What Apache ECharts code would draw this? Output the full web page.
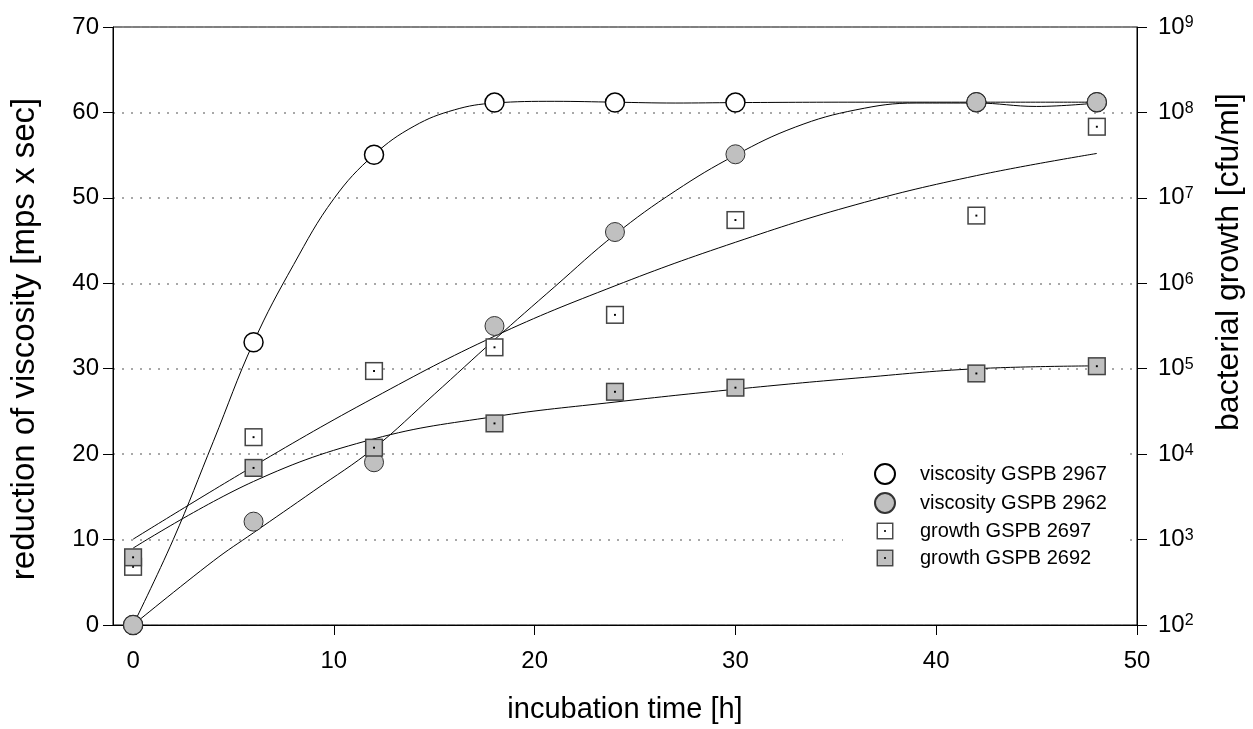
<!DOCTYPE html>
<html>
<head>
<meta charset="utf-8">
<script src="https://cdn.jsdelivr.net/npm/echarts@6/dist/echarts.min.js"></script>
<style>
html,body{margin:0;padding:0;background:#fff;}
#chart{width:1253px;height:729px;}
</style>
</head>
<body>
<div id="chart"></div>
<script>
// measured sample times [h]
const hours = [0, 6, 12, 18, 24, 30, 42, 48];
// reduction of viscosity [mps x sec]
const viscosity2967 = [0, 33.1, 55.05, 61.15, 61.15, 61.15, 61.2, 61.2];
const viscosity2962 = [0, 12.1, 19.05, 35.0, 46.0, 55.1, 61.2, 61.2];
// bacterial growth [cfu/ml]
const growth2697 = [4.8e2, 1.58e4, 9.4e4, 1.78e5, 4.27e5, 5.5e6, 6.2e6, 6.8e7];
const growth2692 = [6.2e2, 6.9e3, 1.19e4, 2.29e4, 5.37e4, 6.0e4, 8.8e4, 1.07e5];

// fitted curves
const fitX2967 = [0, 2, 4, 6, 8, 10, 12, 14, 16, 18, 21, 24, 27, 30, 36, 42, 48];
const fitVisc2967 = [0, 10, 21.5, 33.1, 42.2, 49.9, 55.05, 58.4, 60.3, 61.1, 61.3, 61.2, 61.1, 61.15, 61.2, 61.2, 61.2];
const fitX2962 = [0, 4, 6, 9, 12, 15, 18, 21, 24, 27, 30, 33, 36, 39, 42, 45, 48];
const fitVisc2962 = [0, 7.5, 10.8, 15.7, 20.7, 27.0, 33.4, 39.6, 45.7, 50.8, 55.0, 58.3, 60.3, 61.1, 61.1, 60.7, 61.1];
const fitXGrowth = [0, 6, 12, 18, 24, 30, 36, 42, 48];
const fitGrowth2697 = [1.01e3, 7.24e3, 4.57e4, 2.40e5, 9.33e5, 3.02e6, 8.32e6, 1.82e7, 3.31e7];
const fitGrowth2692 = [7.94e2, 4.79e3, 1.51e4, 2.75e4, 4.07e4, 5.75e4, 7.76e4, 1.0e5, 1.08e5];

const xTicks = [0, 10, 20, 30, 40, 50];
const seriesNames = ['viscosity GSPB 2967', 'viscosity GSPB 2962', 'growth GSPB 2697', 'growth GSPB 2692'];

const FONT = 'Liberation Sans, Arial, sans-serif';
function pairs(xs, ys) { return xs.map((x, i) => [x, ys[i]]); }
function squareIcon(fill) {
  const svg = "<svg xmlns='http://www.w3.org/2000/svg' width='20' height='20' viewBox='0 0 20 20'>" +
    "<rect x='2.25' y='2.25' width='15.5' height='15.5' fill='" + fill + "' stroke='#444' stroke-width='1.4'/>" +
    "<rect x='9.1' y='9.1' width='1.8' height='1.8' fill='#000'/></svg>";
  return 'image://data:image/svg+xml;charset=utf-8,' + encodeURIComponent(svg);
}
const fitLine = { color: '#000', width: 1 };

const chart = echarts.init(document.getElementById('chart'), null, { renderer: 'canvas' });
chart.setOption({
  animation: false,
  backgroundColor: '#fff',
  textStyle: { fontFamily: FONT },
  grid: { left: 111, right: 111, top: 27, bottom: 104, show: true, borderColor: '#000', borderWidth: 1, backgroundColor: 'transparent' },
  legend: {
    data: seriesNames,
    orient: 'vertical',
    left: 843, top: 453,
    padding: [10, 18, 12, 12],
    backgroundColor: '#fff',
    itemWidth: 60, itemHeight: 20, itemGap: 7,
    selectedMode: false,
    textStyle: { fontSize: 20, color: '#000', fontFamily: FONT }
  },
  xAxis: {
    type: 'value', min: -1, max: 50,
    name: 'incubation time [h]', nameLocation: 'middle', nameGap: 70,
    nameTextStyle: { fontSize: 29, color: '#000', fontFamily: FONT },
    axisLine: { onZero: false, lineStyle: { color: '#000', width: 1 } },
    axisTick: { customValues: xTicks, length: 10, lineStyle: { color: '#000' } },
    axisLabel: { customValues: xTicks, fontSize: 24, color: '#000', margin: 24, fontFamily: FONT },
    splitLine: { show: false }
  },
  yAxis: [
    {
      type: 'value', min: 0, max: 70, interval: 10, position: 'left',
      name: 'reduction of viscosity [mps x sec]', nameLocation: 'middle', nameGap: 72, nameRotate: 90,
      nameTextStyle: { fontSize: 33, color: '#000', fontFamily: FONT, padding: [0, 26, 0, 0] },
      axisLine: { show: true, onZero: false, lineStyle: { color: '#000', width: 1 } },
      axisTick: { show: true, length: 10, lineStyle: { color: '#000' } },
      axisLabel: { fontSize: 24, color: '#000', margin: 14, fontFamily: FONT },
      splitLine: { show: false }
    },
    {
      type: 'log', logBase: 10, min: 100, max: 1e9, interval: 1, position: 'right',
      name: 'bacterial growth [cfu/ml]', nameLocation: 'middle', nameGap: 76, nameRotate: 90,
      nameTextStyle: { fontSize: 32, color: '#000', fontFamily: FONT, padding: [0, 0, 0, 128] },
      axisLine: { show: true, onZero: false, lineStyle: { color: '#000', width: 1 } },
      axisTick: { show: true, length: 10, lineStyle: { color: '#000' } },
      axisLabel: {
        margin: 21, color: '#000',
        formatter: function (v) { return '{b|10}{s|' + Math.round(Math.log10(v)) + '}'; },
        rich: {
          b: { fontSize: 24, lineHeight: 24, color: '#000', fontFamily: FONT, verticalAlign: 'bottom' },
          s: { fontSize: 16, lineHeight: 24, color: '#000', fontFamily: FONT, verticalAlign: 'top', padding: [0, 0, 12, 0] }
        }
      },
      splitLine: { show: true, lineStyle: { color: '#8c8c8c', width: 1.5, type: [2, 7] } },
      minorSplitLine: { show: false }
    }
  ],
  series: [
    { type: 'line', data: pairs(fitX2967, fitVisc2967), yAxisIndex: 0, showSymbol: false, smooth: 0.4, lineStyle: fitLine, silent: true, z: 2 },
    { type: 'line', data: pairs(fitX2962, fitVisc2962), yAxisIndex: 0, showSymbol: false, smooth: 0.4, lineStyle: fitLine, silent: true, z: 2 },
    { type: 'line', data: pairs(fitXGrowth, fitGrowth2697), yAxisIndex: 1, showSymbol: false, smooth: 0.4, lineStyle: fitLine, silent: true, z: 2 },
    { type: 'line', data: pairs(fitXGrowth, fitGrowth2692), yAxisIndex: 1, showSymbol: false, smooth: 0.4, lineStyle: fitLine, silent: true, z: 2 },
    { name: seriesNames[0], type: 'scatter', yAxisIndex: 0, data: pairs(hours, viscosity2967), symbol: 'circle', symbolSize: 19,
      itemStyle: { color: '#fff', borderColor: '#000', borderWidth: 1.5, opacity: 1 }, z: 3 },
    { name: seriesNames[1], type: 'scatter', yAxisIndex: 0, data: pairs(hours, viscosity2962), symbol: 'circle', symbolSize: 19,
      itemStyle: { color: '#c0c0c0', borderColor: '#333', borderWidth: 1, opacity: 1 }, z: 4 },
    { name: seriesNames[2], type: 'scatter', yAxisIndex: 1, data: pairs(hours, growth2697), symbol: squareIcon('#fff'), symbolSize: 21.5,
      itemStyle: { color: '#fff', opacity: 1 }, z: 5 },
    { name: seriesNames[3], type: 'scatter', yAxisIndex: 1, data: pairs(hours, growth2692), symbol: squareIcon('#c0c0c0'), symbolSize: 21.5,
      itemStyle: { color: '#c0c0c0', opacity: 1 }, z: 6 }
  ]
});
</script>
</body>
</html>
